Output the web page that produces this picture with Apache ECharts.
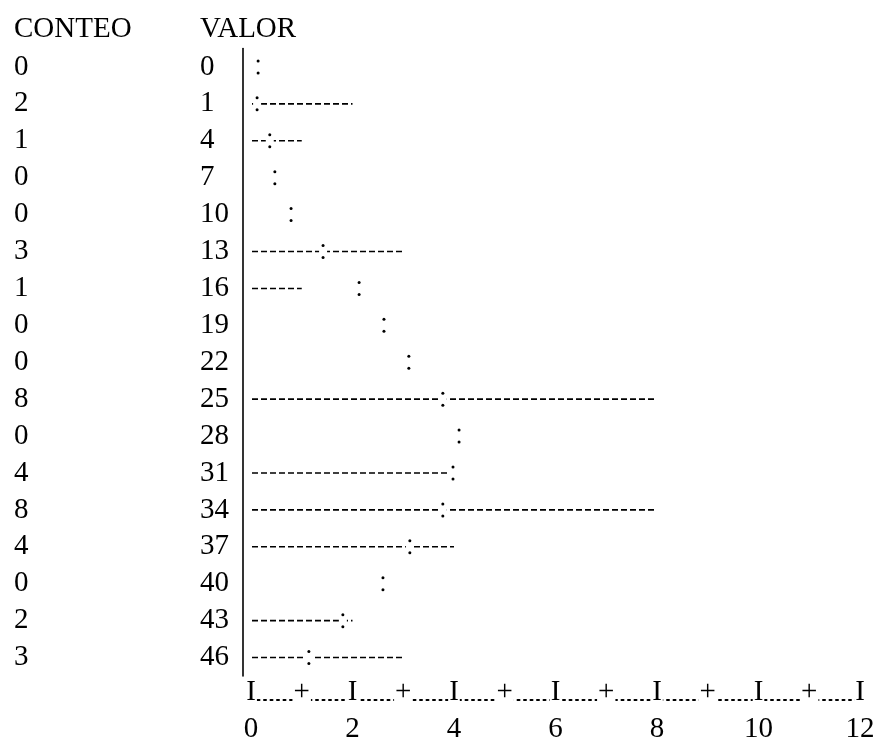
<!DOCTYPE html>
<html><head><meta charset="utf-8">
<script src="https://cdn.jsdelivr.net/npm/echarts@6/dist/echarts.min.js"></script>
<style>html,body{margin:0;padding:0;background:#fff}#c{width:886px;height:744px}</style>
</head><body><div id="c"></div>
<script>
// Data
const valor = ['0','1','4','7','10','13','16','19','22','25','28','31','34','37','40','43','46'];
const conteo = [0,2,1,0,0,3,1,0,0,8,0,4,8,4,0,2,3];
const esperado = [0.14,0.12,0.37,0.47,0.79,1.42,2.13,2.62,3.11,3.78,4.1,3.98,3.78,3.13,2.6,1.81,1.14];
const ticks = [0,2,4,6,8,10,12];

const FONT = 'Liberation Serif';
const FS = 29;
const chart = echarts.init(document.getElementById('c'));
const txt = {fontFamily: FONT, fontSize: FS, color: '#000', fontWeight: 'normal'};

chart.setOption({
  backgroundColor: '#fff',
  animation: false,
  title: [
    {text: 'CONTEO', left: 14, top: 15, textStyle: txt, padding: 0},
    {text: 'VALOR', left: 200, top: 15, textStyle: txt, padding: 0}
  ],
  grid: {left: 251, right: 26, top: 48.5, bottom: 66.5, containLabel: false},
  xAxis: [
    {type: 'value', min: 0, max: 12, interval: 2,
     axisLine: {show: false}, axisTick: {show: false}, splitLine: {show: false},
     axisLabel: Object.assign({margin: 39, formatter: v => ticks.indexOf(v) >= 0 ? String(v) : ''}, txt)},
    {type: 'value', min: 0, max: 12, interval: 1, position: 'bottom', offset: 23.5,
     axisLine: {show: true, onZero: false, lineStyle: {color: '#000', width: 2, type: [2, 4.5]}},
     axisTick: {show: false}, splitLine: {show: false},
     axisLabel: Object.assign({margin: -21.5, formatter: v => (v % 2 === 0 ? 'I' : '+'),
       backgroundColor: '#fff', padding: [0, 1]}, txt)}
  ],
  yAxis: [
    {type: 'category', data: valor, inverse: true, position: 'left', offset: 8,
     axisLine: {show: true, onZero: false, lineStyle: {color: '#000', width: 1.6}},
     axisTick: {show: false}, splitLine: {show: false},
     axisLabel: Object.assign({align: 'left', margin: 43, interval: 0}, txt)},
    {type: 'category', data: valor, inverse: true, position: 'left', offset: 0,
     axisLine: {show: false, onZero: false}, axisTick: {show: false}, splitLine: {show: false},
     axisLabel: Object.assign({align: 'left', margin: 237, interval: 0,
       formatter: (v, i) => String(conteo[i])}, txt)}
  ],
  series: [
    {type: 'custom', name: 'conteo', xAxisIndex: 0, yAxisIndex: 0, z: 2,
     data: conteo.map((v, i) => [v, i]),
     renderItem: function (params, api) {
       const v = api.value(0), i = api.value(1);
       if (!v) return null;
       const p0 = api.coord([0, i]), p1 = api.coord([v, i]);
       return {type: 'line',
         shape: {x1: p0[0] + 1, y1: p0[1], x2: p1[0], y2: p1[1]},
         style: {stroke: '#000', lineWidth: 1.6, lineDash: [6, 3]}};
     }},
    {type: 'custom', name: 'esperado', xAxisIndex: 0, yAxisIndex: 0, z: 3,
     data: esperado.map((v, i) => [v, i]),
     renderItem: function (params, api) {
       const p = api.coord([api.value(0), api.value(1)]);
       return {type: 'group', children: [
         {type: 'rect', shape: {x: p[0] - 4, y: p[1] - 3, width: 8, height: 6}, style: {fill: '#fff'}},
         {type: 'circle', shape: {cx: p[0], cy: p[1] - 6, r: 1.5}, style: {fill: '#000'}},
         {type: 'circle', shape: {cx: p[0], cy: p[1] + 6, r: 1.5}, style: {fill: '#000'}}
       ]};
     }}
  ]
});
</script></body></html>
